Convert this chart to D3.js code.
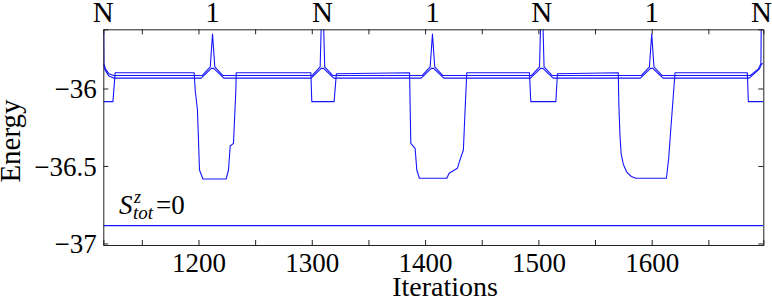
<!DOCTYPE html>
<html><head><meta charset="utf-8">
<script src="https://cdn.jsdelivr.net/npm/d3@7"></script>
<style>
body{margin:0;background:#fff}
svg{display:block}
text{font-family:"Liberation Serif","DejaVu Serif",serif;fill:#000}
</style>
</head><body>
<svg id="chart" width="772" height="297"></svg>
<script>
// ---------- data ----------
const xDomain = [1116, 1698.5];
const yDomain = [-37.01, -35.618];
const xTicks = [1150, 1200, 1250, 1300, 1350, 1400, 1450, 1500, 1550, 1600, 1650];
const xTickLabels = ["", "1200", "", "1300", "", "1400", "", "1500", "", "1600", ""];
const yTicks = [-37, -36.5, -36];
const yTickLabels = ["\u221237", "\u221236.5", "\u221236"];
const sweepEnds = [1116, 1212.4, 1309.4, 1406.5, 1503, 1600, 1697];
const sweepLabels = ["N", "1", "N", "1", "N", "1", "N"];

// ground state, S^z_tot = 0
const groundState = [[1116, -36.885], [1698.5, -36.885]];

// excited state that drops near the sweep ends
const stateA = [
  [1116, -36.085], [1124.5, -36.085], [1126.5, -35.898],
  [1196.2, -35.898], [1197.1, -36.01], [1199.1, -36.139], [1200.9, -36.526], [1203.9, -36.584],
  [1224.4, -36.584], [1226.5, -36.526], [1228, -36.371], [1230.9, -36.354], [1233, -36.01], [1233.3, -35.898],
  [1299.2, -35.898], [1300, -36.085], [1319.7, -36.085], [1321.7, -35.905],
  [1386.3, -35.898], [1387.4, -36.354], [1391.2, -36.386], [1392.7, -36.526], [1395, -36.579],
  [1419.2, -36.579], [1421.2, -36.547], [1428.5, -36.515], [1430.3, -36.472], [1433.8, -36.397],
  [1435.3, -36.139], [1436.8, -35.898],
  [1492.1, -35.898], [1493.3, -36.085], [1515.4, -36.085], [1516.8, -35.905],
  [1570.5, -35.898], [1571, -36.1], [1572, -36.3], [1573, -36.42], [1575, -36.49], [1578, -36.54],
  [1582, -36.568], [1586, -36.579],
  [1613, -36.579], [1615, -36.45], [1616.8, -36.268], [1620.6, -35.898],
  [1684.4, -35.898], [1685.3, -36.085], [1698.5, -36.085]
];

// two further excited states with the spikes at the sweep ends
const stateB = [
  [1116, -35.3], [1116.6, -35.84], [1118, -35.875], [1121, -35.905], [1125, -35.916],
  [1203.4, -35.916], [1210.4, -35.86], [1212.4, -35.648], [1214.4, -35.86], [1221.4, -35.916],
  [1300.4, -35.916], [1307.4, -35.86], [1309.4, -35.3], [1311.4, -35.86], [1318.4, -35.916],
  [1397.5, -35.916], [1404.5, -35.86], [1406.5, -35.648], [1408.5, -35.86], [1415.5, -35.916],
  [1494, -35.916], [1501, -35.86], [1503, -35.3], [1505, -35.86], [1512, -35.916],
  [1591, -35.916], [1598, -35.86], [1600, -35.648], [1602, -35.86], [1609, -35.916],
  [1687, -35.916], [1694, -35.875], [1696.4, -35.84], [1697, -35.3], [1698.5, -35.3]
];
const stateC = [
  [1116, -35.84], [1117.5, -35.88], [1121, -35.92], [1125, -35.933],
  [1202.4, -35.933], [1211.4, -35.87], [1213.4, -35.87], [1222.4, -35.933],
  [1299.4, -35.933], [1308.4, -35.87], [1310.4, -35.87], [1319.4, -35.933],
  [1396.5, -35.933], [1405.5, -35.87], [1407.5, -35.87], [1416.5, -35.933],
  [1493, -35.933], [1502, -35.87], [1504, -35.87], [1513, -35.933],
  [1590, -35.933], [1599, -35.87], [1601, -35.87], [1610, -35.933],
  [1686, -35.933], [1695, -35.875], [1697, -35.84], [1698.5, -35.84]
];
const series = [groundState, stateA, stateB, stateC];

// ---------- drawing ----------
const W = 772, H = 297;
const m = {left: 103.3, top: 29.3, right: 8.7, bottom: 52};
const iw = W - m.left - m.right, ih = H - m.top - m.bottom;
const svg = d3.select("#chart");
const g = svg.append("g").attr("transform", `translate(${m.left},${m.top})`);
const x = d3.scaleLinear().domain(xDomain).range([0, iw]);
const y = d3.scaleLinear().domain(yDomain).range([ih, 0]);

svg.append("defs").append("clipPath").attr("id", "clip")
  .append("rect").attr("x", 0).attr("y", 0).attr("width", iw).attr("height", ih);

const line = d3.line().x(d => x(d[0])).y(d => y(d[1]));
g.append("g").attr("clip-path", "url(#clip)")
  .selectAll("path").data(series).join("path")
  .attr("d", line).attr("fill", "none")
  .attr("stroke", "#1414ff").attr("stroke-width", 1.1)
  .attr("stroke-linejoin", "round");

// axes (box with inward ticks)
const tickLen = 5;
const axisColor = "#222";
const axB = g.append("g").attr("transform", `translate(0,${ih})`)
  .call(d3.axisBottom(x).tickValues(xTicks).tickSize(-tickLen).tickFormat((d, i) => xTickLabels[i]).tickPadding(0));
const axT = g.append("g")
  .call(d3.axisTop(x).tickValues(xTicks).tickSize(-tickLen).tickFormat(""));
const axL = g.append("g")
  .call(d3.axisLeft(y).tickValues(yTicks).tickSize(-tickLen).tickFormat((d, i) => yTickLabels[i]).tickPadding(0));
const axR = g.append("g").attr("transform", `translate(${iw},0)`)
  .call(d3.axisRight(y).tickValues(yTicks).tickSize(-tickLen).tickFormat(""));
[axB, axT, axL, axR].forEach(a => {
  a.select(".domain").attr("stroke", axisColor).attr("stroke-width", 1);
  a.selectAll(".tick line").attr("stroke", axisColor).attr("stroke-width", 1);
  a.selectAll("text").attr("font-family", "Liberation Serif").attr("fill", "#000");
});
axB.selectAll(".tick text").attr("font-size", 27).attr("y", 26.5).attr("dy", 0);
axL.selectAll(".tick text").attr("font-size", 27).attr("x", -6.5).attr("dy", "0.34em");

// sweep end labels
g.append("g").selectAll("text").data(sweepEnds).join("text")
  .attr("x", d => x(d)).attr("y", -7.5)
  .attr("text-anchor", "middle").attr("font-size", 29)
  .text((d, i) => sweepLabels[i]);

// axis titles
svg.append("text").attr("x", 445).attr("y", 296).attr("text-anchor", "middle")
  .attr("font-size", 28).text("Iterations");
svg.append("text").attr("transform", "translate(20,141) rotate(-90)")
  .attr("text-anchor", "middle").attr("font-size", 29).text("Energy");

// S^z_tot = 0 annotation
const ann = svg.append("g");
ann.append("text").attr("x", 119).attr("y", 214).attr("font-size", 27)
  .attr("font-style", "italic").text("S");
ann.append("text").attr("x", 134).attr("y", 203).attr("font-size", 18)
  .attr("font-style", "italic").text("z");
ann.append("text").attr("x", 133).attr("y", 219).attr("font-size", 19)
  .attr("font-style", "italic").text("tot");
ann.append("text").attr("x", 156).attr("y", 214).attr("font-size", 27).text("=0");
</script>
</body></html>
